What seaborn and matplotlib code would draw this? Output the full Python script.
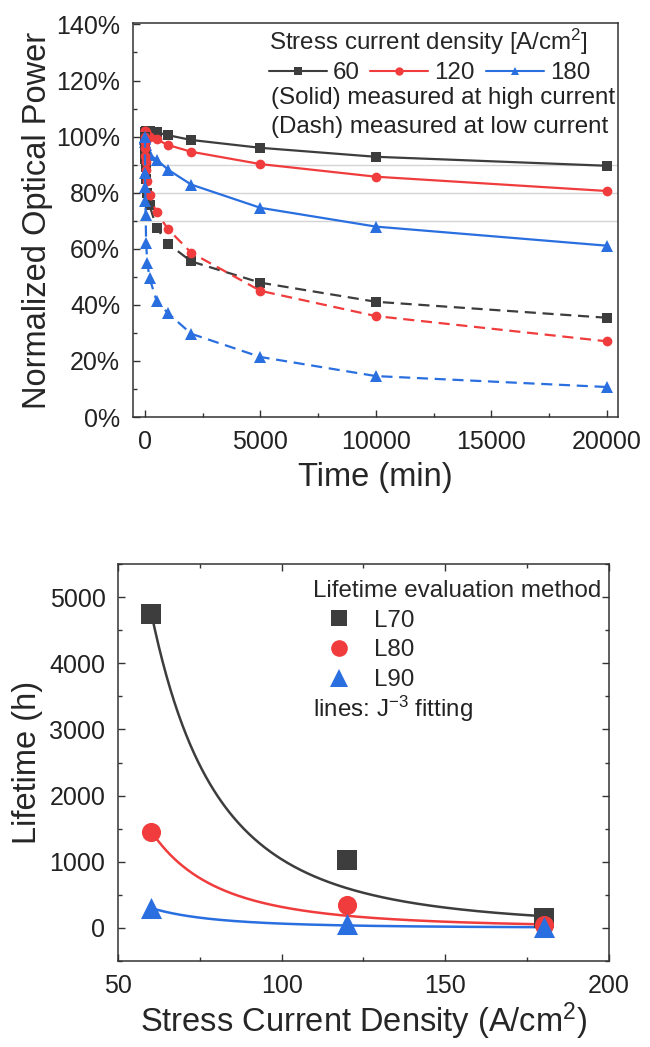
import numpy as np
import pandas as pd
import matplotlib
matplotlib.use("Agg")
import matplotlib.pyplot as plt
from matplotlib.ticker import PercentFormatter, MultipleLocator
from matplotlib.lines import Line2D
import seaborn as sns

# ---------------- data ----------------
time_min = [0, 5, 10, 20, 30, 50, 100, 200, 500, 1000, 2000, 5000, 10000, 20000]
p60_high = [100, 100.5, 101, 101.5, 102, 102, 102, 102, 101.5, 100.5, 98.8, 96, 92.8, 89.6]
p120_high = [100, 101, 102, 102, 101.5, 101, 100.5, 100, 99, 97, 94.6, 90.2, 85.7, 80.6]
p180_high = [100, 99.5, 99, 98, 97, 96, 95, 93.5, 91.8, 88.2, 82.9, 74.6, 67.9, 61.1]
p60_low = [100, 97, 95, 92, 89, 85, 80, 75.5, 67.5, 61.8, 55.5, 47.9, 41.1, 35.4]
p120_low = [100, 98, 96, 93, 91, 88, 84, 79, 73, 67, 58.6, 45, 36, 27]
p180_low = [100, 87, 82, 77, 72, 62, 55, 49.5, 41.5, 37, 29.7, 21.4, 14.6, 10.7]
ref_levels = [90, 80, 70]
densities_lbl = ["60", "120", "180"]

J = [60, 120, 180]
L70 = [4750, 1020, 150]
L80 = [1450, 350, 50]
L90 = [300, 60, 20]
method_lbl = ["L70", "L80", "L90"]

# ---------------- style ----------------
sns.set_theme(style="ticks")
plt.rcParams["font.family"] = ["Liberation Sans", "DejaVu Sans"]
plt.rcParams["mathtext.fontset"] = "custom"
plt.rcParams["mathtext.rm"] = "Liberation Sans"
plt.rcParams["mathtext.it"] = "Liberation Sans:italic"
plt.rcParams["mathtext.bf"] = "Liberation Sans:bold"

C_BLK = "#3d3d3d"
C_RED = "#f03c3c"
C_BLU = "#2a6fe0"
colors = [C_BLK, C_RED, C_BLU]
markers = ["s", "o", "^"]
TICK_FS = 18
LBL_FS = 23.5
LEG_FS = 17.4
SPINE = "#333333"

fig = plt.figure(figsize=(6.5, 10.47), dpi=100)
ax1 = fig.add_axes([0.2042, 0.6017, 0.7471, 0.3763])
ax2 = fig.add_axes([0.1815, 0.0821, 0.7554, 0.3792])


def style_axes(ax, all_sides):
    for s in ax.spines.values():
        s.set_linewidth(1.1)
        s.set_color(SPINE)
        s.set_visible(True)
    ax.tick_params(which="both", direction="in", colors=SPINE, width=1.0,
                   top=all_sides, right=all_sides, labelsize=TICK_FS,
                   labelcolor="#222222")
    ax.tick_params(which="major", length=5, pad=9)
    ax.tick_params(which="minor", length=3)


# ---------------- top panel ----------------
for lv in ref_levels:
    ax1.axhline(lv, color="#d4d4d4", lw=1.0, zorder=0)

highs = [p60_high, p120_high, p180_high]
lows = [p60_low, p120_low, p180_low]
handles = []
for vals, c, m, lab in zip(highs, colors, markers, densities_lbl):
    df = pd.DataFrame({"t": time_min, "p": vals})
    sns.lineplot(data=df, x="t", y="p", ax=ax1, color=c, marker=m,
                 markersize=7 if m != "^" else 8, markeredgewidth=0,
                 linewidth=1.6, legend=False)
    handles.append(Line2D([], [], color=c, marker=m, markersize=6,
                          markeredgewidth=0, lw=1.5, label=lab))
for vals, c, m in zip(lows, colors, markers):
    df = pd.DataFrame({"t": time_min, "p": vals})
    sns.lineplot(data=df, x="t", y="p", ax=ax1, color=c, marker=m,
                 markersize=7 if m != "^" else 8, markeredgewidth=0,
                 linewidth=1.6, linestyle=(0, (5, 3)), legend=False)

ax1.set_xlim(-530, 20500)
ax1.set_ylim(0, 140.5)
ax1.xaxis.set_major_locator(MultipleLocator(5000))
ax1.xaxis.set_minor_locator(MultipleLocator(2500))
ax1.yaxis.set_major_locator(MultipleLocator(20))
ax1.yaxis.set_minor_locator(MultipleLocator(10))
ax1.yaxis.set_major_formatter(PercentFormatter(decimals=0))
style_axes(ax1, False)
ax1.set_xlabel("Time (min)", fontsize=LBL_FS)
ax1.set_ylabel("Normalized Optical Power", fontsize=LBL_FS)
ax1.xaxis.set_label_coords(0.5, -0.115)
ax1.yaxis.set_label_coords(-0.165, 0.5)

leg1 = ax1.legend(handles=handles, ncol=3, frameon=False, fontsize=LEG_FS,
                  title=r"Stress current density [A/cm$^{\mathrm{2}}$]",
                  title_fontsize=LEG_FS, loc="upper left",
                  bbox_to_anchor=(0.28, 0.99), borderpad=0, borderaxespad=0,
                  handlelength=2.4, handletextpad=0.25, columnspacing=0.45,
                  labelspacing=0.2)
leg1._legend_box.align = "left"
ax1.text(0.285, 0.81, "(Solid) measured at high current", transform=ax1.transAxes,
         fontsize=LEG_FS, va="center", ha="left", color="#222222")
ax1.text(0.285, 0.736, "(Dash) measured at low current", transform=ax1.transAxes,
         fontsize=LEG_FS, va="center", ha="left", color="#222222")

# ---------------- bottom panel ----------------
Jfit = np.linspace(min(J), max(J), 300)
Jarr = np.asarray(J, dtype=float)
leg_handles = []
for vals, c, m, lab in zip([L70, L80, L90], colors, markers, method_lbl):
    v = np.asarray(vals, dtype=float)
    A = np.sum(v * Jarr ** -3) / np.sum(Jarr ** -6)
    fit_df = pd.DataFrame({"J": Jfit, "L": A * Jfit ** -3})
    sns.lineplot(data=fit_df, x="J", y="L", ax=ax2, color=c, linewidth=1.8,
                 legend=False)
    pts = pd.DataFrame({"J": J, "L": vals})
    sns.scatterplot(data=pts, x="J", y="L", ax=ax2, color=c, marker=m,
                    s=190 if m != "^" else 230, linewidth=0, legend=False,
                    zorder=5)
    leg_handles.append(Line2D([], [], color=c, marker=m, linestyle="none",
                              markersize=12 if m != "^" else 13,
                              markeredgewidth=0, label=lab))

ax2.set_xlim(50, 200)
ax2.set_ylim(-500, 5500)
ax2.xaxis.set_major_locator(MultipleLocator(50))
ax2.xaxis.set_minor_locator(MultipleLocator(25))
ax2.yaxis.set_major_locator(MultipleLocator(1000))
ax2.yaxis.set_minor_locator(MultipleLocator(500))
style_axes(ax2, True)
ax2.set_xlabel(r"Stress Current Density (A/cm$^{\mathrm{2}}$)", fontsize=LBL_FS)
ax2.set_ylabel("Lifetime (h)", fontsize=LBL_FS)
ax2.xaxis.set_label_coords(0.5, -0.1)
ax2.yaxis.set_label_coords(-0.152, 0.5)

leg2 = ax2.legend(handles=leg_handles, frameon=False, fontsize=LEG_FS,
                  title="Lifetime evaluation method", title_fontsize=LEG_FS,
                  loc="upper left", bbox_to_anchor=(0.398, 0.96), borderpad=0,
                  borderaxespad=0, handlelength=2.1, handletextpad=0.4,
                  labelspacing=0.32)
leg2._legend_box.align = "left"
ax2.text(0.398, 0.636, r"lines: J$^{\mathrm{-3}}$ fitting", transform=ax2.transAxes,
         fontsize=LEG_FS, va="center", ha="left", color="#222222")

fig.savefig("out.png", dpi=100, facecolor="white")
